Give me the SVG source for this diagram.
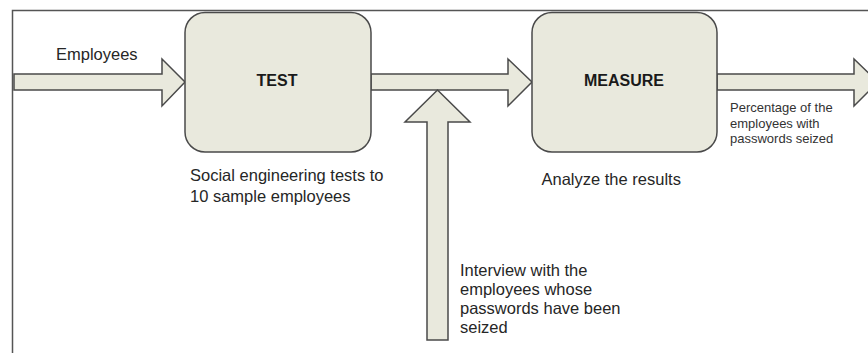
<svg xmlns="http://www.w3.org/2000/svg" width="868" height="353" viewBox="0 0 868 353">
<style>
.shape{fill:#e9e9dd;stroke:#4a4a4a;stroke-width:1.5;stroke-linejoin:miter}
.frame{fill:none;stroke:#555;stroke-width:1.5}
.t{font-family:"Liberation Sans",Arial,sans-serif;font-size:16.5px;fill:#262626}
.b{font-family:"Liberation Sans",Arial,sans-serif;font-size:16px;font-weight:bold;fill:#1a1a1a}
.s{font-family:"Liberation Sans",Arial,sans-serif;font-size:13px;fill:#333}
</style>
<rect width="868" height="353" fill="#fff"/>
<path class="frame" d="M12.5 353 V10.5 H868"/>
<g id="connectors">
<polygon class="shape" points="14,74 162,74 162,59 185,82 162,106 162,90 14,90"/>
<polygon class="shape" points="371,74 508,74 508,59 532,82 508,106 508,90 371,90"/>
<polygon class="shape" points="717,74 854,74 854,59 878,82 854,106 854,90 717,90"/>
<polygon class="shape" points="427,340 427,122 405,122 437.5,90 470,122 448,122 448,340"/>
</g>
<g id="employees-label"><text class="t" x="56" y="60">Employees</text></g>
<g id="test">
<rect class="shape" x="185" y="12.5" width="186" height="139.5" rx="20"/>
<text class="b" x="277" y="86" text-anchor="middle">TEST</text>
</g>
<g id="test-label"><text class="t" x="190" y="180.5">Social engineering tests to</text><text class="t" x="190" y="202">10 sample employees</text></g>
<g id="measure">
<rect class="shape" x="532" y="12.5" width="185" height="139.5" rx="20"/>
<text class="b" x="624" y="86" text-anchor="middle">MEASURE</text>
</g>
<g id="measure-label"><text class="t" x="541.5" y="184.5">Analyze the results</text></g>
<g id="output-label"><text class="s" x="730" y="112">Percentage of the</text><text class="s" x="730" y="127.5">employees with</text><text class="s" x="730" y="143">passwords seized</text></g>
<g id="interview-label"><text class="t" x="460" y="276">Interview with the</text><text class="t" x="460" y="295">employees whose</text><text class="t" x="460" y="314">passwords have been</text><text class="t" x="460" y="333">seized</text></g>
</svg>
